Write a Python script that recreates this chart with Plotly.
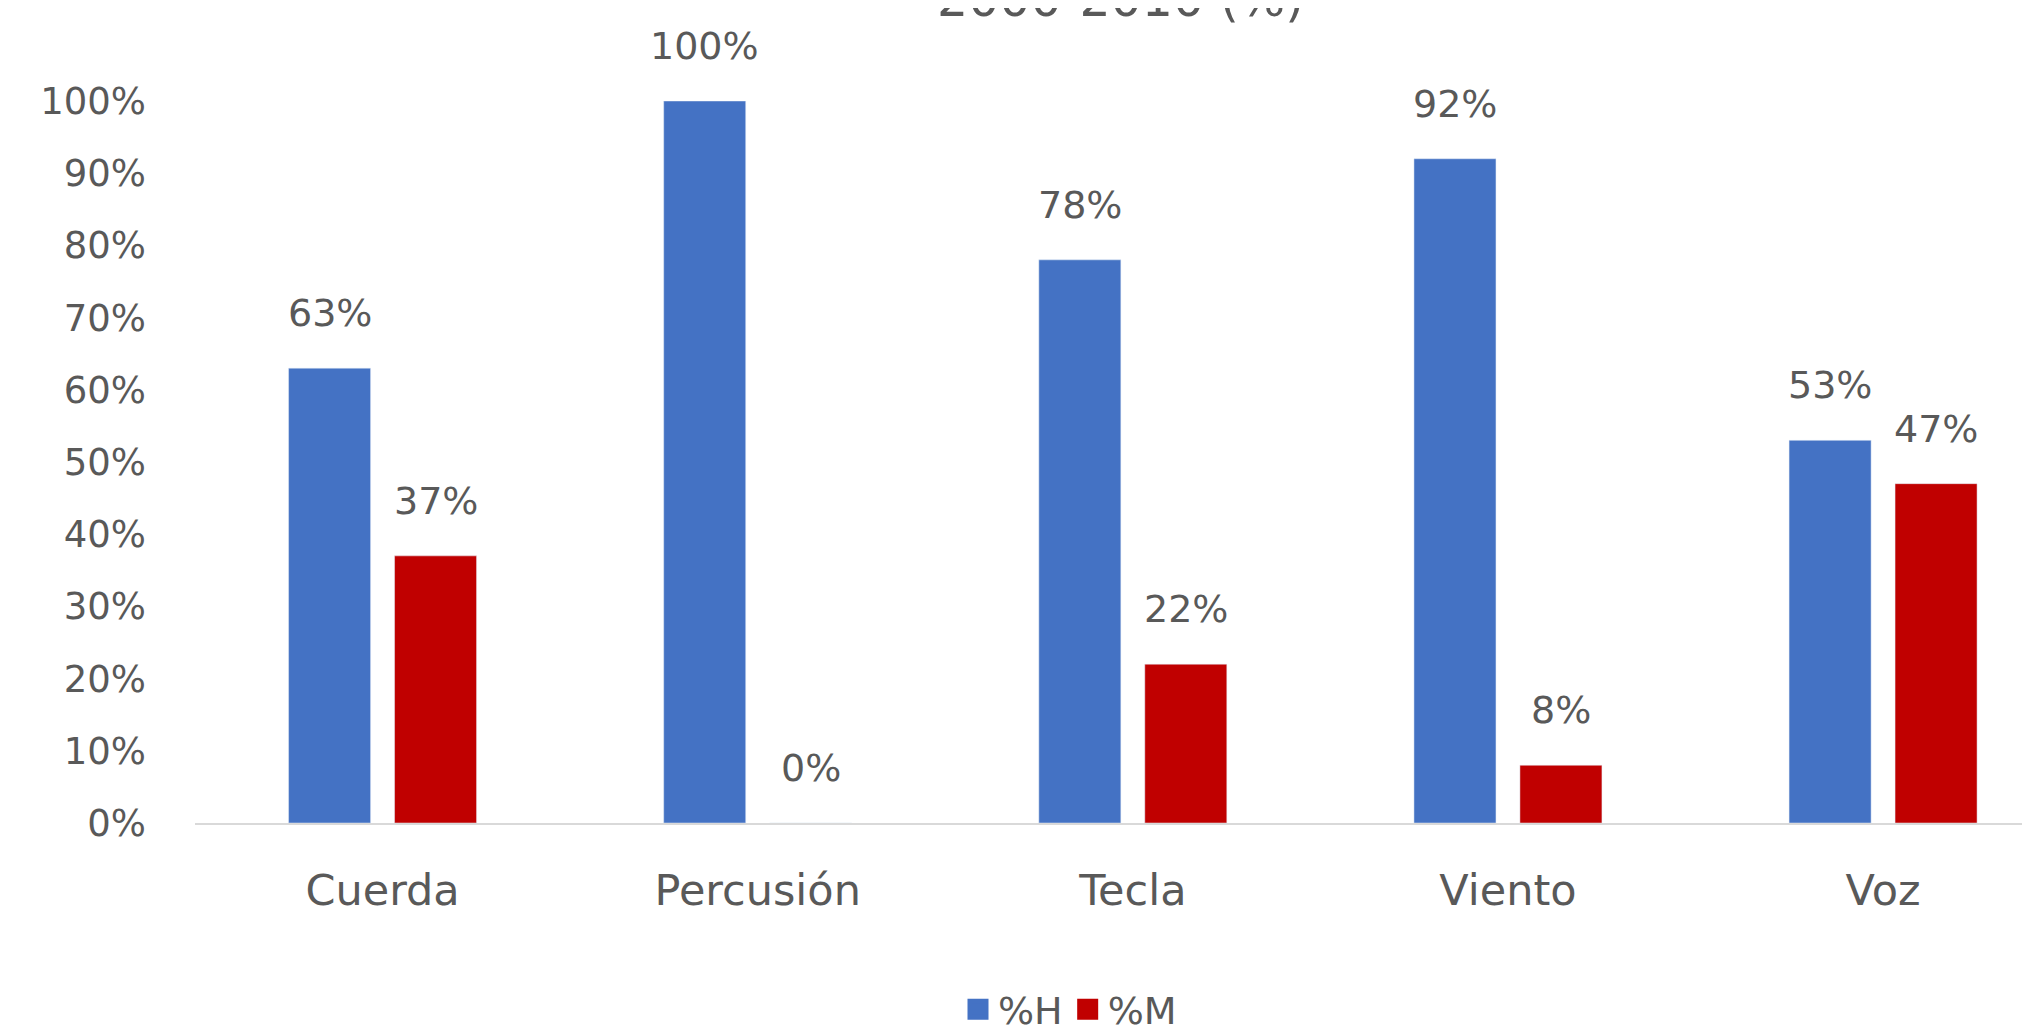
import plotly.graph_objects as go

categories = ["Cuerda", "Percusión", "Tecla", "Viento", "Voz"]
pct_h = [63, 100, 78, 92, 53]
pct_m = [37, 0, 22, 8, 47]
series_names = ["%H", "%M"]
tick_vals = [0, 10, 20, 30, 40, 50, 60, 70, 80, 90, 100]
tick_text = [f"{v}%" for v in tick_vals]
title_text = "2000-2010 (%)"

BLUE = "#4472C4"
RED = "#C00000"
GREY = "#595959"
FONT = "DejaVu Sans"

fig = go.Figure()
for vals, name, col in ((pct_h, series_names[0], BLUE), (pct_m, series_names[1], RED)):
    fig.add_trace(go.Bar(x=categories, y=vals, name=name, marker_color=col,
                         showlegend=False))
# legend entries (larger square symbols)
for name, col in ((series_names[0], BLUE), (series_names[1], RED)):
    fig.add_trace(go.Scatter(x=[None], y=[None], mode="markers", name=name,
                             marker=dict(symbol="square", size=16, color=col,
                                         line=dict(color=col, width=5))))

# value labels above bars
for vals, shift in ((pct_h, -53), (pct_m, 53)):
    for c, v in zip(categories, vals):
        fig.add_annotation(x=c, y=v, xref="x", yref="y", text=f"{v}%",
                           showarrow=False, xshift=shift, yshift=55,
                           yanchor="middle", font=dict(family=FONT, size=38, color=GREY))

fig.add_annotation(x=(1112 - 187) / (2030 - 187), y=1.14, xref="paper", yref="paper",
                   text=title_text, showarrow=False, yanchor="middle", xanchor="center",
                   font=dict(family=FONT, size=49, color=GREY))

fig.update_layout(
    width=2030, height=1033,
    margin=dict(l=187, r=0, t=93, b=213),
    paper_bgcolor="white", plot_bgcolor="white",
    barmode="group", bargap=0.435, bargroupgap=0.226,
    font=dict(family=FONT, size=38, color=GREY),
    showlegend=True,
    legend=dict(orientation="h", x=(1062 - 187) / (2030 - 187), y=(820 - 1008) / 727,
                xanchor="center", yanchor="middle",
                font=dict(family=FONT, size=38, color=GREY), itemwidth=30,
                traceorder="normal"),
)
fig.update_xaxes(range=[-0.5, 4.413], showline=True, linecolor="#D9D9D9", linewidth=2,
                 ticks="", showgrid=False, ticklabelstandoff=28,
                 tickfont=dict(family=FONT, size=43, color=GREY))
fig.update_yaxes(range=[0, 100], tickvals=tick_vals, ticktext=tick_text, showgrid=False,
                 zeroline=False, showline=False, ticks="", ticklabelstandoff=48,
                 tickfont=dict(family=FONT, size=37, color=GREY))

fig.write_html("out.html")
